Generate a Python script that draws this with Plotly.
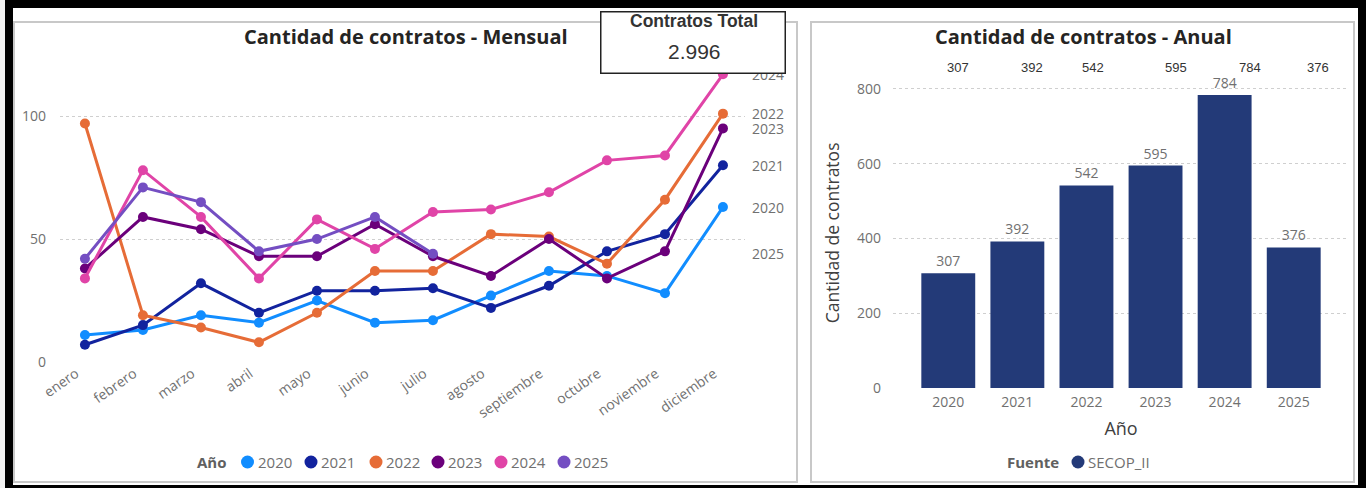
import plotly.graph_objects as go

W, H = 1366, 488

meses = ["enero", "febrero", "marzo", "abril", "mayo", "junio", "julio",
         "agosto", "septiembre", "octubre", "noviembre", "diciembre"]
anios = ["2020", "2021", "2022", "2023", "2024", "2025"]

c2020 = [11, 13, 19, 16, 25, 16, 17, 27, 37, 35, 28, 63]
c2021 = [7, 15, 32, 20, 29, 29, 30, 22, 31, 45, 52, 80]
c2022 = [97, 19, 14, 8, 20, 37, 37, 52, 51, 40, 66, 101]
c2023 = [38, 59, 54, 43, 43, 56, 43, 35, 50, 34, 45, 95]
c2024 = [34, 78, 59, 34, 58, 46, 61, 62, 69, 82, 84, 117]
c2025 = [42, 71, 65, 45, 50, 59, 44]

colores = ["#118DFF", "#12239E", "#E66C37", "#6B007B", "#E044A7", "#744EC2"]

totales_anuales = [307, 392, 542, 595, 784, 376]
contratos_total = "2.996"
fuente = "SECOP_II"

FONT = "Open Sans"
GRIS = "#707070"
OSCURO = "#252423"


def px(x):
    return x / W


def py(y):
    return 1 - y / H


def texto(t, x, y, size, color=GRIS, family=FONT, xanchor="center", **kw):
    return dict(text=t, x=px(x), y=py(y), xref="paper", yref="paper",
                xanchor=xanchor, yanchor="middle", showarrow=False,
                font=dict(family=family, size=size, color=color), **kw)


fig = go.Figure()

series = [c2020, c2021, c2022, c2023, c2024, c2025]
for anio, vals, col in zip(anios, series, colores):
    fig.add_trace(go.Scatter(
        x=meses[:len(vals)], y=vals, name=anio,
        mode="lines+markers",
        line=dict(color=col, width=3),
        marker=dict(color=col, size=10),
        cliponaxis=False, showlegend=False,
        xaxis="x", yaxis="y",
    ))

fig.add_trace(go.Bar(
    x=anios, y=totales_anuales, name=fuente,
    marker=dict(color="#233A78", line=dict(width=0)),
    width=0.78,
    text=totales_anuales, textposition="outside",
    textfont=dict(family=FONT, size=14, color=GRIS),
    cliponaxis=False, showlegend=False,
    xaxis="x2", yaxis="y2",
))

shapes = [
    # white page inside black frame
    dict(type="rect", xref="paper", yref="paper", x0=px(13), x1=px(1358),
         y0=py(485), y1=py(8), fillcolor="white", line=dict(width=0), layer="below"),
    dict(type="rect", xref="paper", yref="paper", x0=0, x1=px(5),
         y0=0, y1=1, fillcolor="#F2F2F2", line=dict(width=0), layer="below"),
    # panel borders
    dict(type="rect", xref="paper", yref="paper", x0=px(14), x1=px(797),
         y0=py(482), y1=py(22), line=dict(color="#C8C8C8", width=2), layer="below"),
    dict(type="rect", xref="paper", yref="paper", x0=px(811), x1=px(1354),
         y0=py(482), y1=py(22), line=dict(color="#C8C8C8", width=2), layer="below"),
]

annotations = [
    texto("<b>Cantidad de contratos - Mensual</b>", 406, 37, 20, OSCURO),
    texto("<b>Cantidad de contratos - Anual</b>", 1083, 37, 20, OSCURO),
]

# end-of-line labels
for anio, vals in zip(anios, series):
    annotations.append(dict(
        text=anio, x="diciembre", y=vals[-1], xref="x", yref="y",
        xanchor="left", yanchor="middle", xshift=27, showarrow=False,
        font=dict(family=FONT, size=14, color=GRIS)))

# row of totals above the annual chart
desplaz = [10, 15, 7, 20, 25, 24]
for i, (tot, dx) in enumerate(zip(totales_anuales, desplaz)):
    annotations.append(dict(
        text=str(tot), x=i, y=py(67), xref="x2", yref="paper",
        xanchor="center", yanchor="middle", xshift=dx, showarrow=False,
        font=dict(family="Liberation Sans", size=13, color="#333333")))

# legends
annotations.append(texto("<b>Año</b>", 229, 462, 15, "#606060", xanchor="right"))
leg_x = [247.5, 311, 376, 438, 501, 564]
for anio, col, cx in zip(anios, colores, leg_x):
    shapes.append(dict(type="circle", xref="paper", yref="paper",
                       xsizemode="pixel", ysizemode="pixel",
                       xanchor=px(cx), yanchor=py(462),
                       x0=-6.5, x1=6.5, y0=-6.5, y1=6.5,
                       fillcolor=col, line=dict(width=0)))
    annotations.append(texto(anio, cx + 8, 462, 15, xanchor="left"))

annotations.append(texto("<b>Fuente</b>", 1061, 462, 15, "#606060", xanchor="right"))
shapes.append(dict(type="circle", xref="paper", yref="paper",
                   xsizemode="pixel", ysizemode="pixel",
                   xanchor=px(1078), yanchor=py(462),
                   x0=-6.5, x1=6.5, y0=-6.5, y1=6.5,
                   fillcolor="#233A78", line=dict(width=0)))
annotations.append(texto(fuente, 1086, 462, 15, xanchor="left"))

# KPI card (drawn last so it covers the 2024 label)
annotations.append(texto(" ", 693, 42, 10, width=183, height=60,
                         bgcolor="white", bordercolor="#222222",
                         borderwidth=1.5, borderpad=0))
annotations.append(texto("<b>Contratos Total</b>", 694, 21, 17.5, "#333333",
                         family="Liberation Sans"))
annotations.append(texto(contratos_total, 694, 51, 21, "#333333",
                         family="Liberation Sans"))

grid = dict(showgrid=True, gridcolor="#CFCFCF", griddash="dot", gridwidth=1,
            zeroline=False, showline=False, ticks="", automargin=False)

fig.update_layout(
    width=W, height=H, autosize=False,
    margin=dict(l=0, r=0, t=0, b=0, pad=0),
    paper_bgcolor="black", plot_bgcolor="rgba(0,0,0,0)",
    font=dict(family=FONT, color=GRIS),
    xaxis=dict(domain=[px(60), px(745)], anchor="y", type="category",
               range=[-0.43, 11.38], automargin=False,
               showgrid=False, zeroline=False, showline=False, ticks="",
               tickangle=-35, ticklabelshift=-9,
               tickfont=dict(size=14, color=GRIS)),
    yaxis=dict(domain=[py(362), py(62)], anchor="x", range=[0, 122],
               tickvals=[0, 50, 100],
               tickfont=dict(size=14, color=GRIS), ticklabelstandoff=13, **grid),
    xaxis2=dict(domain=[px(893), px(1349)], anchor="y2", type="category",
                range=[-0.8, 5.8], automargin=False,
                showgrid=False, zeroline=False, showline=False, ticks="",
                tickfont=dict(size=14, color=GRIS), ticklabelstandoff=4,
                title=dict(text="Año", standoff=12,
                           font=dict(size=18, color="#404040"))),
    yaxis2=dict(domain=[py(388), py(388 - 830 * 299 / 800)], anchor="x2",
                range=[0, 830],
                tickvals=[0, 200, 400, 600, 800],
                tickfont=dict(size=14, color=GRIS), ticklabelstandoff=11,
                title=dict(text="Cantidad de contratos", standoff=12,
                           font=dict(size=17.5, color="#404040")),
                **grid),
    shapes=shapes,
    annotations=annotations,
)

fig.write_html(
    "out.html",
    config={"displayModeBar": False},
    post_script="document.body.style.margin='0px';",
)
